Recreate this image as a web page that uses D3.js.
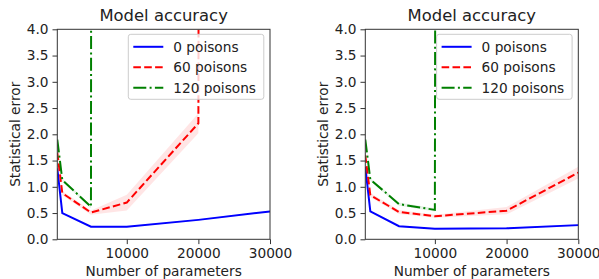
<!DOCTYPE html>
<html>
<head>
<meta charset="utf-8">
<script src="https://cdn.jsdelivr.net/npm/d3@7"></script>
<style>
  body { margin: 0; background: #fff; }
  svg { display: block; font-family: "DejaVu Sans", sans-serif; }
</style>
</head>
<body>
<script>
// x values (number of parameters) shared by every curve
const params = [300, 1000, 5000, 10000, 20000, 30000];
const seriesNames = ["0 poisons", "60 poisons", "120 poisons"];
const yTicks = [0, 0.5, 1, 1.5, 2, 2.5, 3, 3.5, 4];
const xTicks = [10000, 20000, 30000];

// left panel values (off-chart points blow up past the top)
const leftZero = [1.35, 0.50, 0.24, 0.24, 0.37, 0.53];
const leftSixty = [1.65, 0.88, 0.51, 0.70, 2.21, 900];
const leftOneTwenty = [1.90, 1.13, 0.62, 900, 900, 900];
const leftZeroErr = [0.02, 0.01, 0.01, 0.01, 0.01, 0.01];
const leftSixtyErr = [0.05, 0.04, 0.04, 0.15, 0.19, 20];
const leftOneTwentyErr = [0.04, 0.03, 0.03, 10, 10, 10];

// right panel values
const rightZero = [1.38, 0.53, 0.25, 0.20, 0.21, 0.27];
const rightSixty = [1.60, 0.84, 0.52, 0.44, 0.545, 1.27];
const rightOneTwenty = [1.90, 1.14, 0.67, 0.56, 900, 900];
const rightZeroErr = [0.02, 0.01, 0.01, 0.01, 0.01, 0.02];
const rightSixtyErr = [0.05, 0.04, 0.04, 0.03, 0.07, 0.11];
const rightOneTwentyErr = [0.04, 0.03, 0.03, 0.03, 10, 10];

const colours = ["#0000ff", "#ff0000", "#008000"];
const dashes = [null, "7.6,3.3", "13,3.3,2,3.3"];
const fs = 13.7;

const W = 599, H = 279;
const svg = d3.select("body").append("svg")
  .attr("width", W)
  .attr("height", H);

function drawPanel(x0, x1, ySets, errSets, id) {
  const top = 29.3, bottom = 239.3;
  const x = d3.scaleLinear().domain([300, 30000]).range([x0, x1]);
  const y = d3.scaleLinear().domain([0, 4]).range([bottom, top]);
  const g = svg.append("g");

  g.append("clipPath").attr("id", "clip" + id)
    .append("rect")
    .attr("x", x0).attr("y", top)
    .attr("width", x1 - x0).attr("height", bottom - top);

  const plot = g.append("g").attr("clip-path", `url(#clip${id})`);

  // error bands
  ySets.forEach((vals, i) => {
    const area = d3.area()
      .x((d, j) => x(params[j]))
      .y0((d, j) => y(d - errSets[i][j]))
      .y1((d, j) => y(d + errSets[i][j]));
    plot.append("path")
      .attr("d", area(vals))
      .attr("fill", colours[i])
      .attr("fill-opacity", 0.1);
  });

  // lines
  ySets.forEach((vals, i) => {
    const line = d3.line()
      .x((d, j) => x(params[j]))
      .y(d => y(d));
    plot.append("path")
      .attr("d", line(vals))
      .attr("fill", "none")
      .attr("stroke", colours[i])
      .attr("stroke-width", 2)
      .attr("stroke-dasharray", dashes[i]);
  });

  // axes
  g.append("g")
    .attr("transform", `translate(0,${bottom})`)
    .call(d3.axisBottom(x).tickValues(xTicks).tickFormat(d3.format("d")).tickSize(4.8).tickPadding(4))
    .call(a => a.select(".domain").remove());
  g.append("g")
    .attr("transform", `translate(${x0},0)`)
    .call(d3.axisLeft(y).tickValues(yTicks).tickFormat(d3.format(".1f")).tickSize(4.8).tickPadding(4))
    .call(a => a.select(".domain").remove());
  g.selectAll(".tick text")
    .attr("font-family", "DejaVu Sans, sans-serif")
    .attr("font-size", fs)
    .attr("fill", "#222");
  g.selectAll(".tick line").attr("stroke", "#333").attr("stroke-width", 1);

  g.append("rect")
    .attr("x", x0).attr("y", top)
    .attr("width", x1 - x0).attr("height", bottom - top)
    .attr("fill", "none")
    .attr("stroke", "#333")
    .attr("stroke-width", 1);

  // title + labels
  g.append("text")
    .attr("x", (x0 + x1) / 2).attr("y", 20.7)
    .attr("text-anchor", "middle")
    .attr("font-size", 16.4)
    .attr("fill", "#222")
    .text("Model accuracy");
  g.append("text")
    .attr("x", (x0 + x1) / 2).attr("y", 276)
    .attr("text-anchor", "middle")
    .attr("font-size", fs)
    .attr("fill", "#222")
    .text("Number of parameters");
  g.append("text")
    .attr("transform", `translate(${x0 - 37.5},${(top + bottom) / 2}) rotate(-90)`)
    .attr("text-anchor", "middle")
    .attr("font-size", fs)
    .attr("fill", "#222")
    .text("Statistical error");

  // legend
  const lw = 135.5, lh = 65;
  const lx = x1 - 6.2 - lw, ly = top + 5;
  const legend = g.append("g").attr("transform", `translate(${lx},${ly})`);
  legend.append("rect")
    .attr("width", lw).attr("height", lh)
    .attr("rx", 2.5)
    .attr("fill", "white").attr("fill-opacity", 0.8)
    .attr("stroke", "#cccccc").attr("stroke-width", 1);
  seriesNames.forEach((name, i) => {
    const ry = 12.5 + i * 20.5;
    legend.append("line")
      .attr("x1", 5).attr("x2", 35)
      .attr("y1", ry).attr("y2", ry)
      .attr("stroke", colours[i])
      .attr("stroke-width", 2)
      .attr("stroke-dasharray", dashes[i]);
    legend.append("text")
      .attr("x", 45).attr("y", ry)
      .attr("dy", "0.36em")
      .attr("font-size", fs)
      .attr("fill", "#222")
      .text(name);
  });
}

drawPanel(57.3, 270,
  [leftZero, leftSixty, leftOneTwenty],
  [leftZeroErr, leftSixtyErr, leftOneTwentyErr], "L");
drawPanel(365.3, 578.3,
  [rightZero, rightSixty, rightOneTwenty],
  [rightZeroErr, rightSixtyErr, rightOneTwentyErr], "R");
</script>
</body>
</html>
